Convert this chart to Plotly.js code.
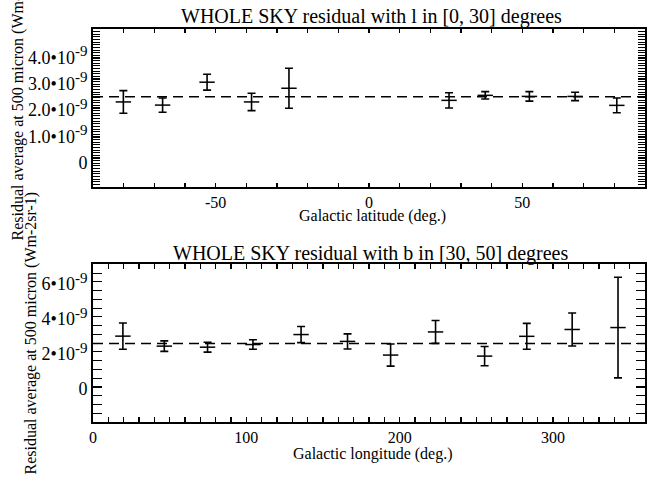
<!DOCTYPE html>
<html>
<head>
<meta charset="utf-8">
<script src="https://cdn.plot.ly/plotly-3.0.1.min.js"></script>
<style>html,body{margin:0;padding:0;background:#fff;}#chart{width:651px;height:482px;}</style>
</head>
<body>
<div id="chart"></div>
<script>
// ---- Data: top panel (l in [0,30]) ----
const latTop = [-80.1, -67.3, -52.8, -38.3, -26.1, 26.1, 37.9, 52.3, 67.2, 80.8];
const resTop = [2.23e-9, 2.11e-9, 2.98e-9, 2.23e-9, 2.75e-9, 2.29e-9, 2.48e-9, 2.44e-9, 2.44e-9, 2.10e-9];
const errTop = [0.43e-9, 0.27e-9, 0.30e-9, 0.33e-9, 0.76e-9, 0.29e-9, 0.14e-9, 0.18e-9, 0.16e-9, 0.28e-9];
const refTop = 2.43e-9;
const xRangeTop = [-90, 90];
const yRangeTop = [-1e-9, 5e-9];
const yTickValsTop = [0, 1e-9, 2e-9, 3e-9, 4e-9];
const yTickTextTop = ["0", "1.0•10", "2.0•10", "3.0•10", "4.0•10"];
const yTickExpTop = ["", "-9", "-9", "-9", "-9"];
const xTickValsTop = [-50, 0, 50];
const xTickTextTop = ["-50", "0", "50"];

// ---- Data: bottom panel (b in [30,50]) ----
const lonBot = [19.5, 46.5, 74.7, 104.3, 135.7, 166.0, 194.1, 223.4, 255.4, 282.9, 312.5, 342.4];
const resBot = [2.90e-9, 2.33e-9, 2.27e-9, 2.42e-9, 2.99e-9, 2.60e-9, 1.82e-9, 3.14e-9, 1.76e-9, 2.89e-9, 3.28e-9, 3.39e-9];
const errBot = [0.75e-9, 0.30e-9, 0.28e-9, 0.27e-9, 0.46e-9, 0.43e-9, 0.63e-9, 0.65e-9, 0.55e-9, 0.74e-9, 0.94e-9, 2.87e-9];
const refBot = 2.48e-9;
const xRangeBot = [0, 360];
const yRangeBot = [-2e-9, 7e-9];
const yTickValsBot = [0, 2e-9, 4e-9, 6e-9];
const yTickTextBot = ["0", "2•10", "4•10", "6•10"];
const yTickExpBot = ["", "-9", "-9", "-9"];
const xTickValsBot = [0, 100, 200, 300];
const xTickTextBot = ["0", "100", "200", "300"];

// ---- Minor tick spacing (in axis units, as steps) ----
const minorStepTop = {x: 10, y: 1e-10};
const minorStepBot = {x: 10, y: 5e-10};

// ---- Text ----
const titleTop = "WHOLE SKY residual with l in [0, 30] degrees";
const titleBot = "WHOLE SKY residual with b in [30, 50] degrees";
const xTitleTop = "Galactic latitude (deg.)";
const xTitleBot = "Galactic longitude (deg.)";
const yTitle = "Residual average at 500 micron (Wm-2sr-1)";

const FONT = "Liberation Serif, Times New Roman, serif";
const W = 651, H = 482;
const M = {l: 93, r: 6, t: 29, b: 60};
const plotW = W - M.l - M.r, plotH = H - M.t - M.b;
const px2x = p => (p - M.l) / plotW;
const px2y = p => (H - M.b - p) / plotH;

const withExp = (txt, exp) => txt.map((t, i) => exp[i] ? t + "<sup><span style='font-size:15px'>" + exp[i] + "</span></sup>" : t);

// Merge labelled major ticks with unlabelled minor ticks for an axis range
function tickSet(range, step, majorVals, majorText) {
  const vals = [], text = [];
  const n = Math.round((range[1] - range[0]) / step);
  for (let i = 0; i <= n; i++) {
    const v = range[0] + i * step;
    const k = majorVals.findIndex(m => Math.abs(m - v) < step * 1e-3);
    vals.push(k >= 0 ? majorVals[k] : v);
    text.push(k >= 0 ? majorText[k] : "");
  }
  return {tickvals: vals, ticktext: text};
}

function errTrace(x, y, e, xa, ya) {
  return {
    x: x, y: y, xaxis: xa, yaxis: ya, type: 'scatter', mode: 'markers',
    marker: {symbol: 'line-ew', size: 11, color: '#000', line: {color: '#000', width: 1.5}},
    error_y: {type: 'data', array: e, visible: true, color: '#000', thickness: 1.6, width: 4},
    showlegend: false, hoverinfo: 'skip', cliponaxis: false
  };
}
function refTrace(range, level, xa, ya) {
  return {
    x: range, y: [level, level], xaxis: xa, yaxis: ya, type: 'scatter', mode: 'lines',
    line: {color: '#000', width: 1.6, dash: '10px,6px'}, showlegend: false, hoverinfo: 'skip'
  };
}

const data = [
  refTrace(xRangeTop, refTop, 'x', 'y'),
  errTrace(latTop, resTop, errTop, 'x', 'y'),
  refTrace(xRangeBot, refBot, 'x2', 'y2'),
  errTrace(lonBot, resBot, errBot, 'x2', 'y2')
];

function axis(extra) {
  return Object.assign({
    showline: true, linecolor: '#000', linewidth: 2, mirror: 'allticks',
    ticks: 'inside', tickcolor: '#000', tickwidth: 1.1,
    showgrid: false, zeroline: false, tickmode: 'array',
    tickfont: {family: FONT, size: 18, color: '#000'}
  }, extra);
}

const layout = {
  width: W, height: H, margin: M,
  paper_bgcolor: '#fff', plot_bgcolor: '#fff',
  font: {family: FONT, color: '#000'},
  xaxis: axis(Object.assign({domain: [0, 1], anchor: 'y', range: xRangeTop, ticklen: 4,
    tickfont: {family: FONT, size: 16, color: '#000'}},
    tickSet(xRangeTop, minorStepTop.x, xTickValsTop, xTickTextTop))),
  yaxis: axis(Object.assign({domain: [px2y(187), 1], anchor: 'x', range: yRangeTop, ticklen: 7, ticklabelshift: 2},
    tickSet(yRangeTop, minorStepTop.y, yTickValsTop, withExp(yTickTextTop, yTickExpTop)))),
  xaxis2: axis(Object.assign({domain: [0, 1], anchor: 'y2', range: xRangeBot, ticklen: 5,
    tickfont: {family: FONT, size: 16, color: '#000'}},
    tickSet(xRangeBot, minorStepBot.x, xTickValsBot, xTickTextBot))),
  yaxis2: axis(Object.assign({domain: [0, px2y(264.3)], anchor: 'x2', range: yRangeBot, ticklen: 9, ticklabelshift: 2},
    tickSet(yRangeBot, minorStepBot.y, yTickValsBot, withExp(yTickTextBot, yTickExpBot)))),
  annotations: [
    {text: titleTop, xref: 'paper', yref: 'paper', x: px2x(371), y: px2y(17), showarrow: false,
     xanchor: 'center', yanchor: 'middle', font: {family: FONT, size: 20, color: '#000'}},
    {text: titleBot, xref: 'paper', yref: 'paper', x: px2x(371), y: px2y(253), showarrow: false,
     xanchor: 'center', yanchor: 'middle', font: {family: FONT, size: 20, color: '#000'}},
    {text: xTitleTop, xref: 'paper', yref: 'paper', x: px2x(372), y: px2y(216), showarrow: false,
     xanchor: 'center', yanchor: 'middle', font: {family: FONT, size: 16, color: '#000'}},
    {text: xTitleBot, xref: 'paper', yref: 'paper', x: px2x(373), y: px2y(454), showarrow: false,
     xanchor: 'center', yanchor: 'middle', font: {family: FONT, size: 16, color: '#000'}},
    {text: yTitle, xref: 'paper', yref: 'paper', x: px2x(17), y: px2y(243), showarrow: false,
     textangle: -90, xanchor: 'center', yanchor: 'bottom', font: {family: FONT, size: 16, color: '#000'}},
    {text: yTitle, xref: 'paper', yref: 'paper', x: px2x(30), y: px2y(477), showarrow: false,
     textangle: -90, xanchor: 'center', yanchor: 'bottom', font: {family: FONT, size: 16, color: '#000'}}
  ]
};

Plotly.newPlot('chart', data, layout, {staticPlot: true, displayModeBar: false});
</script>
</body>
</html>
